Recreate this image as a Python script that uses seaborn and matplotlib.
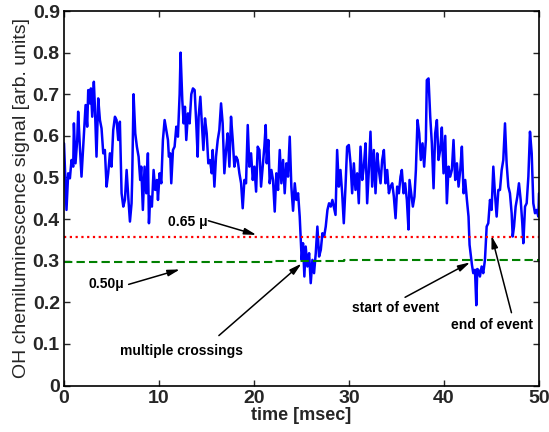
import numpy as np
import pandas as pd
import matplotlib
matplotlib.use("Agg")
import matplotlib.pyplot as plt
import seaborn as sns

# ---- data ----
time_ms = [
    0.0, 0.16, 0.26, 0.44, 0.62, 0.79, 0.97, 1.04, 1.21, 1.39, 1.49, 1.67, 1.84, 2.02, 2.27, 2.44, 2.55, 2.72, 2.83, 2.97,
    3.14, 3.25, 3.42, 3.6, 3.78, 3.95, 4.13, 4.3, 4.48, 4.65, 4.83, 5.0, 5.18, 5.36, 5.53, 5.71, 5.88, 6.06, 6.24, 6.41,
    6.59, 6.76, 6.94, 7.11,
    7.18, 7.32, 7.5, 7.67, 7.85, 8.02, 8.13, 8.3, 8.48, 8.66, 8.83, 8.94, 9.08, 9.25, 9.43, 9.6, 9.78, 9.89, 10.06, 10.24,
    10.41, 10.59, 10.76, 10.94, 11.04, 11.18, 11.29, 11.47, 11.64, 11.82, 11.99, 12.17, 12.27, 12.45, 12.59, 12.73, 12.87,
    13.05, 13.22, 13.4, 13.57, 13.75, 13.92, 14.07,
    14.17, 14.35, 14.49, 14.67, 14.84, 15.02, 15.19, 15.37, 15.55, 15.65, 15.83, 16.0, 16.18, 16.35, 16.53, 16.7, 16.88,
    17.06, 17.23, 17.41, 17.58, 17.76, 17.93, 18.11, 18.28, 18.46, 18.64, 18.81, 18.99, 19.16, 19.34, 19.51, 19.69, 19.87,
    20.04, 20.22, 20.39, 20.57, 20.74, 20.92, 21.09,
    21.23, 21.34, 21.51, 21.65, 21.83, 22.0, 22.18, 22.35, 22.53, 22.71, 22.88, 23.06, 23.23, 23.41, 23.58, 23.76, 23.93,
    24.11, 24.29, 24.46, 24.64, 24.81, 24.92, 25.02, 25.16, 25.3, 25.44, 25.62, 25.8, 25.97, 26.15, 26.32, 26.5, 26.67,
    26.85, 27.03, 27.2, 27.38, 27.55, 27.73, 27.9, 28.08, 28.25,
    28.4, 28.58, 28.75, 28.93, 29.1, 29.28, 29.45, 29.63, 29.8, 29.98, 30.16, 30.33, 30.51, 30.68, 30.86, 31.03, 31.21,
    31.39, 31.56, 31.74, 31.91, 32.09, 32.26, 32.44, 32.61, 32.79, 32.97, 33.14, 33.32, 33.49, 33.67, 33.84, 34.02, 34.2,
    34.37, 34.55, 34.72, 34.9, 35.07, 35.25, 35.42,
    35.56, 35.74, 35.91, 36.09, 36.26, 36.37, 36.54, 36.72, 36.89, 37.04, 37.21, 37.39, 37.56, 37.74, 37.91, 38.09, 38.19,
    38.37, 38.55, 38.72, 38.9, 39.07, 39.25, 39.42, 39.6, 39.77, 39.95, 40.13, 40.3, 40.48, 40.65, 40.83, 41.0, 41.18,
    41.36, 41.53, 41.71, 41.88, 42.06, 42.23, 42.41, 42.58,
    42.69, 42.83, 42.94, 43.08, 43.26, 43.4, 43.5, 43.61, 43.78, 43.96, 44.13, 44.31, 44.49, 44.66, 44.84, 45.01, 45.19,
    45.36, 45.54, 45.72, 45.89, 46.07, 46.24, 46.42, 46.59, 46.77, 46.94, 47.12, 47.23, 47.37, 47.54, 47.72, 47.89, 48.07,
    48.24, 48.35, 48.53, 48.7, 48.88, 49.05, 49.23, 49.4, 49.58, 49.75, 49.93, 50.0,
]
signal = [
    0.582, 0.486, 0.422, 0.51, 0.498, 0.542, 0.526, 0.63, 0.534, 0.59, 0.658, 0.574, 0.502, 0.574, 0.674, 0.622, 0.71,
    0.678, 0.714, 0.646, 0.73, 0.67, 0.55, 0.69, 0.638, 0.618, 0.558, 0.566, 0.478, 0.51, 0.558, 0.526, 0.614, 0.646,
    0.638, 0.59, 0.634, 0.462, 0.43, 0.446, 0.518, 0.454, 0.394, 0.438,
    0.50, 0.70, 0.606, 0.574, 0.55, 0.494, 0.526, 0.422, 0.526, 0.462, 0.558, 0.39, 0.454, 0.43, 0.518, 0.47, 0.494,
    0.446, 0.51, 0.486, 0.59, 0.638, 0.614, 0.59, 0.55, 0.558, 0.486, 0.566, 0.574, 0.622, 0.598, 0.70, 0.80, 0.686,
    0.63, 0.67, 0.59, 0.654, 0.63, 0.70, 0.714, 0.71, 0.63, 0.55,
    0.646, 0.694, 0.638, 0.566, 0.642, 0.606, 0.534, 0.542, 0.51, 0.566, 0.478, 0.55, 0.59, 0.614, 0.678, 0.63, 0.51,
    0.566, 0.606, 0.526, 0.646, 0.59, 0.526, 0.55, 0.542, 0.51, 0.486, 0.426, 0.494, 0.486, 0.626, 0.526, 0.558, 0.494,
    0.526, 0.466, 0.574, 0.566, 0.478, 0.526, 0.574,
    0.626, 0.534, 0.59, 0.486, 0.518, 0.494, 0.418, 0.51, 0.47, 0.566, 0.486, 0.542, 0.462, 0.534, 0.502, 0.598, 0.478,
    0.42, 0.486, 0.446, 0.462, 0.406, 0.35, 0.302, 0.342, 0.262, 0.334, 0.286, 0.318, 0.246, 0.302, 0.27, 0.318, 0.382,
    0.31, 0.326, 0.366, 0.358, 0.382, 0.422, 0.438, 0.43, 0.446,
    0.43, 0.41, 0.566, 0.478, 0.518, 0.462, 0.39, 0.478, 0.574, 0.578, 0.534, 0.462, 0.534, 0.47, 0.51, 0.438, 0.574,
    0.494, 0.526, 0.582, 0.438, 0.518, 0.61, 0.478, 0.566, 0.462, 0.558, 0.518, 0.486, 0.542, 0.566, 0.486, 0.518, 0.462,
    0.478, 0.486, 0.454, 0.402, 0.478, 0.462, 0.502,
    0.518, 0.462, 0.486, 0.446, 0.375, 0.494, 0.462, 0.43, 0.454, 0.518, 0.638, 0.606, 0.542, 0.582, 0.526, 0.59, 0.734,
    0.738, 0.646, 0.582, 0.474, 0.606, 0.638, 0.542, 0.566, 0.62, 0.51, 0.60, 0.438, 0.526, 0.502, 0.518, 0.59, 0.494,
    0.534, 0.478, 0.518, 0.574, 0.462, 0.494, 0.446, 0.406,
    0.338, 0.31, 0.29, 0.27, 0.278, 0.193, 0.28, 0.278, 0.262, 0.286, 0.27, 0.302, 0.382, 0.39, 0.446, 0.422, 0.526,
    0.462, 0.406, 0.47, 0.47, 0.518, 0.542, 0.63, 0.534, 0.478, 0.462, 0.414, 0.358, 0.382, 0.43, 0.454, 0.486, 0.446,
    0.39, 0.342, 0.43, 0.438, 0.502, 0.61, 0.558, 0.438, 0.414, 0.422, 0.406, 0.462,
]

thr65_x = [0, 50]
thr65_y = [0.356, 0.356]
thr50_x = [0, 22.2, 29.5, 50]
thr50_y = [0.298, 0.300, 0.302, 0.302]

x_ticks = [0, 10, 20, 30, 40, 50]
y_ticks = [0, 0.1, 0.2, 0.3, 0.4, 0.5, 0.6, 0.7, 0.8, 0.9]
y_tick_labels = ["0", "0.1", "0.2", "0.3", "0.4", "0.5", "0.6", "0.7", "0.8", "0.9"]

# annotations: text, text position, arrow tail, arrow tip
ann_text = ["0.65 \u03bc", "0.50\u03bc", "multiple crossings", "start of event", "end of event"]
ann_pos = [(13.0, 0.392), (4.5, 0.243), (12.4, 0.083), (34.95, 0.186), (45.0, 0.146)]
ann_tail = [(15.2, 0.396), (6.8, 0.243), (16.3, 0.12), (35.9, 0.212), (47.1, 0.175)]
ann_tip = [(20.25, 0.362), (12.2, 0.279), (25.0, 0.293), (42.75, 0.296), (45.0, 0.36)]

# ---- plotting ----
sns.set_style("ticks", {"xtick.direction": "in", "ytick.direction": "in"})
plt.rcParams["font.family"] = ["Liberation Sans", "DejaVu Sans"]

fig = plt.figure(figsize=(5.49, 4.32), dpi=100)
ax = fig.add_axes([0.1166, 0.1076, 0.8652, 0.8669])

df = pd.DataFrame({"time": time_ms, "signal": signal})
sns.lineplot(data=df, x="time", y="signal", ax=ax, color=(0, 0, 1), lw=1.8,
             estimator=None, sort=False)
sns.lineplot(x=thr65_x, y=thr65_y, ax=ax, color=(1, 0, 0), lw=1.6,
             linestyle=(0, (1, 1.6)))
sns.lineplot(x=thr50_x, y=thr50_y, ax=ax, color=(0, 0.5, 0), lw=1.5,
             linestyle=(0, (4, 2)), drawstyle="steps-post", estimator=None)

for txt, pos, tail, tip in zip(ann_text, ann_pos, ann_tail, ann_tip):
    ax.text(pos[0], pos[1], txt, ha="center", va="center", fontsize=10,
            fontweight="bold", color="black")
    ax.annotate("", xy=tip, xytext=tail,
                arrowprops=dict(arrowstyle="-|>,head_length=0.6,head_width=0.16",
                                color="black", lw=1.1, mutation_scale=12,
                                shrinkA=0, shrinkB=0))

ax.set_xlim(0, 50)
ax.set_ylim(0, 0.9)
ax.set_xticks(x_ticks)
ax.set_xticklabels([str(v) for v in x_ticks])
ax.set_yticks(y_ticks)
ax.set_yticklabels(y_tick_labels)
ax.tick_params(direction="in", top=True, right=True, length=4, width=1.0,
               labelsize=14, pad=3)
for lab in ax.get_xticklabels() + ax.get_yticklabels():
    lab.set_fontweight("bold")
for sp in ax.spines.values():
    sp.set_visible(True)
    sp.set_linewidth(1.2)
    sp.set_color("black")

ax.set_xlabel("time [msec]", fontsize=13, fontweight="bold", labelpad=0)
ax.set_ylabel("OH chemiluminescence signal [arb. units]", fontsize=14, labelpad=2)

fig.savefig("out.png", dpi=100, facecolor="white")
